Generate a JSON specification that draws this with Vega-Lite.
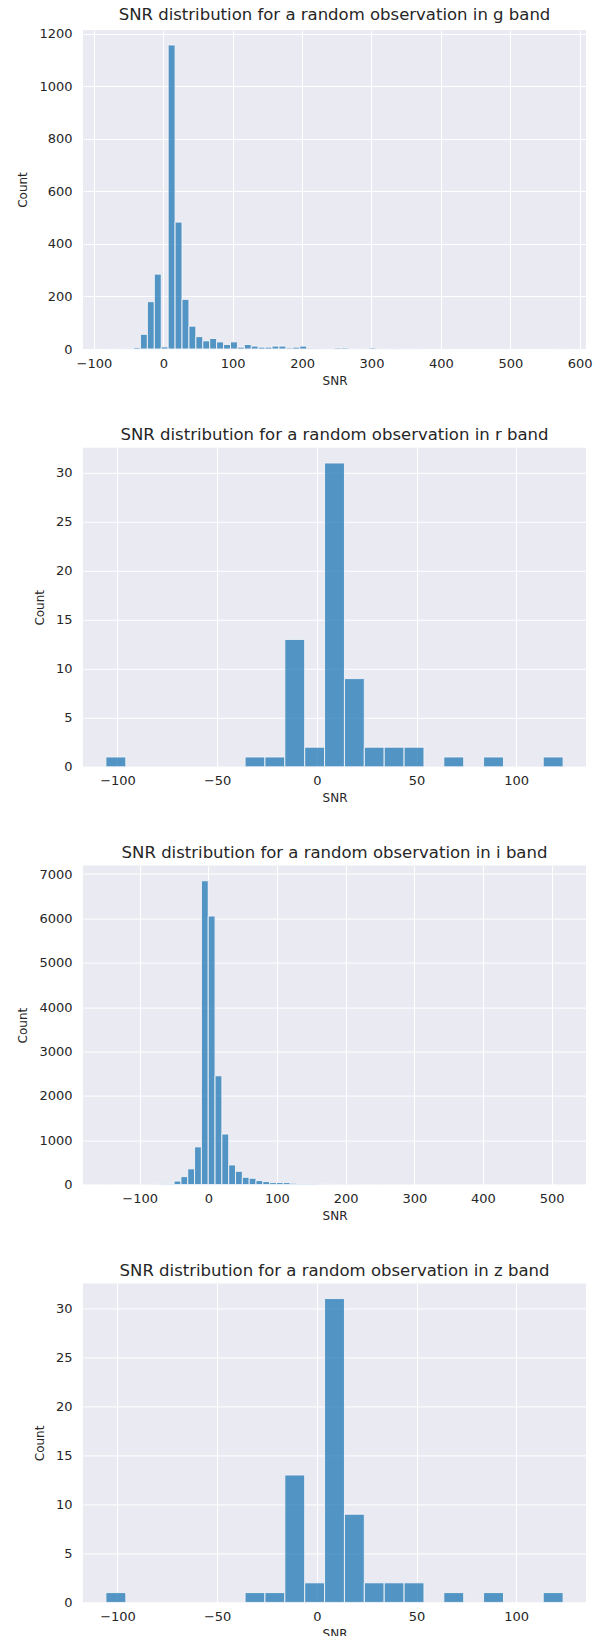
{
  "$schema": "https://vega.github.io/schema/vega-lite/v6.json",
  "background": "white",
  "padding": {"left": 16, "top": 7, "right": 5, "bottom": 0},
  "bounds": "flush",
  "spacing": 98.8,
  "config": {
    "view": {"fill": "#EAEAF2", "stroke": null},
    "axis": {
      "grid": true, "gridColor": "white", "gridWidth": 1, "domain": false, "ticks": false,
      "labelFont": "DejaVu Sans", "labelFontSize": 13, "labelColor": "#262626",
      "titleFont": "DejaVu Sans", "titleFontSize": 12, "titleFontWeight": "normal", "titleColor": "#262626",
      "labelOverlap": false, "labelFlush": false, "format": "d"
    },
    "axisX": {"labelPadding": 8, "titlePadding": 5},
    "axisY": {"labelPadding": 11, "titlePadding": 9},
    "title": {"font": "DejaVu Sans", "fontSize": 16.5, "fontWeight": "normal", "color": "#262626", "offset": 4, "baseline": "alphabetic", "frame": "group", "anchor": "middle"}
  },
  "datasets": {
    "g": [
      {"x0": -82.8, "x1": -72.82, "count": 1},
      {"x0": -52.86, "x1": -42.88, "count": 1},
      {"x0": -42.88, "x1": -32.9, "count": 5},
      {"x0": -32.9, "x1": -22.92, "count": 56},
      {"x0": -22.92, "x1": -12.94, "count": 180},
      {"x0": -12.94, "x1": -2.96, "count": 285},
      {"x0": -2.96, "x1": 7.02, "count": 8},
      {"x0": 7.02, "x1": 17.0, "count": 1157},
      {"x0": 17.0, "x1": 26.98, "count": 483},
      {"x0": 26.98, "x1": 36.96, "count": 189},
      {"x0": 36.96, "x1": 46.94, "count": 87},
      {"x0": 46.94, "x1": 56.92, "count": 47},
      {"x0": 56.92, "x1": 66.9, "count": 31},
      {"x0": 66.9, "x1": 76.88, "count": 40},
      {"x0": 76.88, "x1": 86.86, "count": 27},
      {"x0": 86.86, "x1": 96.84, "count": 17},
      {"x0": 96.84, "x1": 106.82, "count": 27},
      {"x0": 106.82, "x1": 116.8, "count": 7},
      {"x0": 116.8, "x1": 126.78, "count": 17},
      {"x0": 126.78, "x1": 136.76, "count": 11},
      {"x0": 136.76, "x1": 146.74, "count": 7},
      {"x0": 146.74, "x1": 156.72, "count": 7},
      {"x0": 156.72, "x1": 166.7, "count": 11},
      {"x0": 166.7, "x1": 176.68, "count": 11},
      {"x0": 176.68, "x1": 186.66, "count": 4},
      {"x0": 186.66, "x1": 196.64, "count": 7},
      {"x0": 196.64, "x1": 206.62, "count": 11},
      {"x0": 206.62, "x1": 216.6, "count": 3},
      {"x0": 216.6, "x1": 226.58, "count": 1},
      {"x0": 226.58, "x1": 236.56, "count": 1},
      {"x0": 236.56, "x1": 246.54, "count": 1},
      {"x0": 246.54, "x1": 256.52, "count": 4},
      {"x0": 256.52, "x1": 266.5, "count": 4},
      {"x0": 266.5, "x1": 276.48, "count": 1},
      {"x0": 276.48, "x1": 286.46, "count": 1},
      {"x0": 296.44, "x1": 306.42, "count": 4},
      {"x0": 316.4, "x1": 326.38, "count": 1},
      {"x0": 326.38, "x1": 336.36, "count": 1},
      {"x0": 336.36, "x1": 346.34, "count": 1},
      {"x0": 346.34, "x1": 356.32, "count": 1},
      {"x0": 356.32, "x1": 366.3, "count": 1},
      {"x0": 565.9, "x1": 575.88, "count": 1}
    ],
    "r": [
      {"x0": -105.8, "x1": -95.83, "count": 1},
      {"x0": -36.01, "x1": -26.04, "count": 1},
      {"x0": -26.04, "x1": -16.07, "count": 1},
      {"x0": -16.07, "x1": -6.1, "count": 13},
      {"x0": -6.1, "x1": 3.87, "count": 2},
      {"x0": 3.87, "x1": 13.84, "count": 31},
      {"x0": 13.84, "x1": 23.81, "count": 9},
      {"x0": 23.81, "x1": 33.78, "count": 2},
      {"x0": 33.78, "x1": 43.75, "count": 2},
      {"x0": 43.75, "x1": 53.72, "count": 2},
      {"x0": 63.69, "x1": 73.66, "count": 1},
      {"x0": 83.63, "x1": 93.6, "count": 1},
      {"x0": 113.54, "x1": 123.51, "count": 1}
    ],
    "i": [
      {"x0": -149.2, "x1": -139.26, "count": 1},
      {"x0": -119.38, "x1": -109.44, "count": 1},
      {"x0": -109.44, "x1": -99.5, "count": 2},
      {"x0": -99.5, "x1": -89.56, "count": 3},
      {"x0": -89.56, "x1": -79.62, "count": 4},
      {"x0": -79.62, "x1": -69.68, "count": 8},
      {"x0": -69.68, "x1": -59.74, "count": 20},
      {"x0": -59.74, "x1": -49.8, "count": 25},
      {"x0": -49.8, "x1": -39.86, "count": 80},
      {"x0": -39.86, "x1": -29.92, "count": 180},
      {"x0": -29.92, "x1": -19.98, "count": 355},
      {"x0": -19.98, "x1": -10.04, "count": 850},
      {"x0": -10.04, "x1": -0.1, "count": 6849},
      {"x0": -0.1, "x1": 9.84, "count": 6054},
      {"x0": 9.84, "x1": 19.78, "count": 2453},
      {"x0": 19.78, "x1": 29.72, "count": 1140},
      {"x0": 29.72, "x1": 39.66, "count": 443},
      {"x0": 39.66, "x1": 49.6, "count": 300},
      {"x0": 49.6, "x1": 59.54, "count": 165},
      {"x0": 59.54, "x1": 69.48, "count": 143},
      {"x0": 69.48, "x1": 79.42, "count": 90},
      {"x0": 79.42, "x1": 89.36, "count": 68},
      {"x0": 89.36, "x1": 99.3, "count": 45},
      {"x0": 99.3, "x1": 109.24, "count": 45},
      {"x0": 109.24, "x1": 119.18, "count": 45},
      {"x0": 119.18, "x1": 129.12, "count": 30},
      {"x0": 129.12, "x1": 139.06, "count": 25},
      {"x0": 139.06, "x1": 149.0, "count": 25},
      {"x0": 149.0, "x1": 158.94, "count": 22},
      {"x0": 158.94, "x1": 168.88, "count": 10},
      {"x0": 168.88, "x1": 178.82, "count": 8},
      {"x0": 178.82, "x1": 188.76, "count": 6},
      {"x0": 188.76, "x1": 198.7, "count": 5},
      {"x0": 198.7, "x1": 208.64, "count": 5},
      {"x0": 208.64, "x1": 218.58, "count": 4},
      {"x0": 218.58, "x1": 228.52, "count": 3},
      {"x0": 228.52, "x1": 238.46, "count": 3},
      {"x0": 238.46, "x1": 248.4, "count": 2},
      {"x0": 248.4, "x1": 258.34, "count": 2},
      {"x0": 258.34, "x1": 268.28, "count": 2},
      {"x0": 268.28, "x1": 278.22, "count": 1},
      {"x0": 288.16, "x1": 298.1, "count": 1},
      {"x0": 506.84, "x1": 516.78, "count": 1}
    ]
  },
  "vconcat": [
    {
      "data": {"name": "g"},
      "title": "SNR distribution for a random observation in g band",
      "width": 503, "height": 319,
      "mark": {"type": "bar", "fill": "#1f77b4", "fillOpacity": 0.75, "stroke": "#F4F4F8", "strokeWidth": 0.9},
      "encoding": {
        "x": {"field": "x0", "type": "quantitative", "scale": {"domain": [-115.7, 609.1], "nice": false, "zero": false}, "axis": {"values": [-100, 0, 100, 200, 300, 400, 500, 600], "title": "SNR"}},
        "x2": {"field": "x1"},
        "y": {"field": "count", "type": "quantitative", "scale": {"domain": [0, 1214], "nice": false}, "axis": {"values": [0, 200, 400, 600, 800, 1000, 1200], "title": "Count"}},
        "y2": {"datum": 0}
      }
    },
    {
      "data": {"name": "r"},
      "title": "SNR distribution for a random observation in r band",
      "width": 503, "height": 319,
      "mark": {"type": "bar", "fill": "#1f77b4", "fillOpacity": 0.75, "stroke": "#F4F4F8", "strokeWidth": 0.9},
      "encoding": {
        "x": {"field": "x0", "type": "quantitative", "scale": {"domain": [-117.3, 135.0], "nice": false, "zero": false}, "axis": {"values": [-100, -50, 0, 50, 100], "title": "SNR"}},
        "x2": {"field": "x1"},
        "y": {"field": "count", "type": "quantitative", "scale": {"domain": [0, 32.55], "nice": false}, "axis": {"values": [0, 5, 10, 15, 20, 25, 30], "title": "Count"}},
        "y2": {"datum": 0}
      }
    },
    {
      "data": {"name": "i"},
      "title": "SNR distribution for a random observation in i band",
      "width": 503, "height": 319,
      "mark": {"type": "bar", "fill": "#1f77b4", "fillOpacity": 0.75, "stroke": "#F4F4F8", "strokeWidth": 0.9},
      "encoding": {
        "x": {"field": "x0", "type": "quantitative", "scale": {"domain": [-182.5, 550.1], "nice": false, "zero": false}, "axis": {"values": [-100, 0, 100, 200, 300, 400, 500], "title": "SNR"}},
        "x2": {"field": "x1"},
        "y": {"field": "count", "type": "quantitative", "scale": {"domain": [0, 7191], "nice": false}, "axis": {"values": [0, 1000, 2000, 3000, 4000, 5000, 6000, 7000], "title": "Count"}},
        "y2": {"datum": 0}
      }
    },
    {
      "data": {"name": "r"},
      "title": "SNR distribution for a random observation in z band",
      "width": 503, "height": 319,
      "mark": {"type": "bar", "fill": "#1f77b4", "fillOpacity": 0.75, "stroke": "#F4F4F8", "strokeWidth": 0.9},
      "encoding": {
        "x": {"field": "x0", "type": "quantitative", "scale": {"domain": [-117.3, 135.0], "nice": false, "zero": false}, "axis": {"values": [-100, -50, 0, 50, 100], "title": "SNR"}},
        "x2": {"field": "x1"},
        "y": {"field": "count", "type": "quantitative", "scale": {"domain": [0, 32.55], "nice": false}, "axis": {"values": [0, 5, 10, 15, 20, 25, 30], "title": "Count"}},
        "y2": {"datum": 0}
      }
    }
  ]
}
